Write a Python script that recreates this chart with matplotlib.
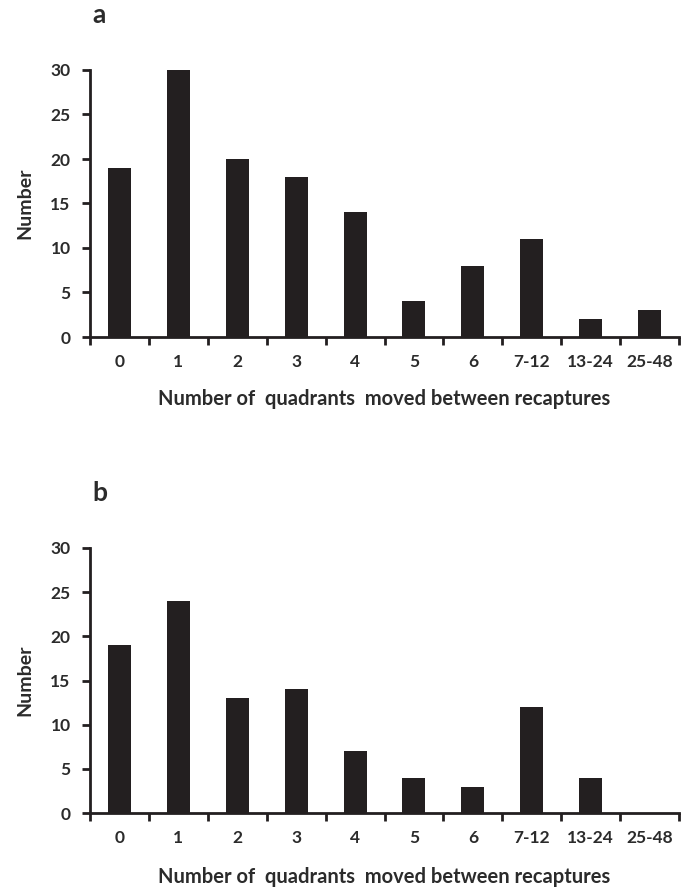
import matplotlib
matplotlib.use("Agg")
import matplotlib.pyplot as plt

categories = ["0", "1", "2", "3", "4", "5", "6", "7-12", "13-24", "25-48"]
values_a = [19, 30, 20, 18, 14, 4, 8, 11, 2, 3]
values_b = [19, 24, 13, 14, 7, 4, 3, 12, 4, 0]
yticks = [0, 5, 10, 15, 20, 25, 30]

plt.rcParams['font.family'] = ['Lato', 'DejaVu Sans']

fig = plt.figure(figsize=(6.94, 8.96), dpi=100)
W, H = 694, 896

def make_ax(top_px, bottom_px):
    left = 90 / W
    right = 679 / W
    return fig.add_axes([left, 1 - bottom_px / H, right - left, (bottom_px - top_px) / H])

bar_color = "#231f20"
text_color = "#2b2b2b"

panels = [(values_a, 70, 337, "a", 14), (values_b, 548, 813, "b", 15)]
for vals, top, bot, lab, xpad in panels:
    ax = make_ax(top, bot)
    x = list(range(len(categories)))
    ax.bar(x, vals, width=0.39, color=bar_color, zorder=3)
    ax.set_xlim(-0.5, len(categories) - 0.5)
    ax.set_ylim(0, 30)
    ax.set_yticks(yticks)
    ax.set_yticklabels([str(t) for t in yticks], fontsize=12.5, fontweight='bold', color=text_color)
    ax.set_xticks([i - 0.5 for i in range(len(categories) + 1)])
    ax.set_xticklabels([])
    ax.set_xticks(x, minor=True)
    ax.set_xticklabels(categories, minor=True, fontsize=12.5, fontweight='bold', color=text_color)
    ax.tick_params(axis='x', which='minor', length=0, pad=12)
    ax.tick_params(axis='x', which='major', length=6, width=2, direction='out', color=bar_color)
    ax.tick_params(axis='y', length=6, width=2, direction='out', color=bar_color, pad=8)
    for s in ["top", "right"]:
        ax.spines[s].set_visible(False)
    for s in ["left", "bottom"]:
        ax.spines[s].set_linewidth(2)
        ax.spines[s].set_color(bar_color)
    ax.set_ylabel("Number", fontsize=14, fontweight='bold', color=text_color, labelpad=12)
    ax.set_xlabel("Number of  quadrants  moved between recaptures", fontsize=14.5,
                  fontweight='bold', color=text_color, labelpad=xpad)
    fig.text(92 / W, 1 - (top - 55) / H, lab, fontsize=19, fontweight='bold',
             color=text_color, ha='left', va='center')

fig.savefig("out.png", dpi=100)
